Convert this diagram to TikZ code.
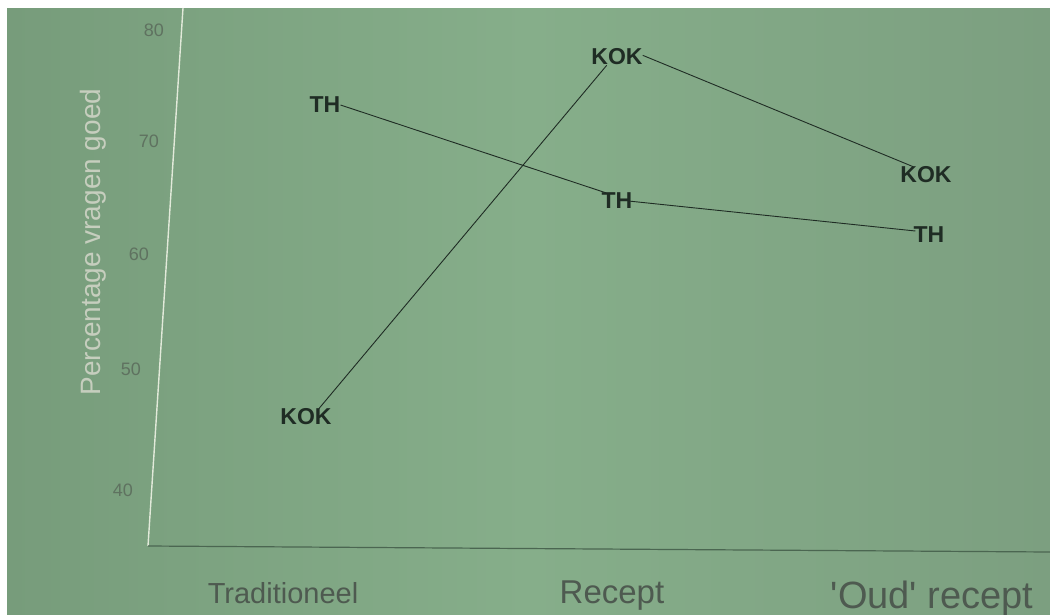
\documentclass[tikz,border=0pt]{standalone}
\usepackage{fontspec}
\setmainfont{Liberation Sans}
\newfontfamily\plainsans{Liberation Sans}
\usetikzlibrary{calc}
\definecolor{bgL}{HTML}{779C7B}
\definecolor{bgM}{HTML}{86AE8A}
\definecolor{bgR}{HTML}{7C9F80}
\definecolor{ink}{HTML}{1F2C24}
\definecolor{tickedge}{HTML}{5F7260}
\definecolor{ytitle}{HTML}{C6CEBE}
\definecolor{xlab}{HTML}{4E5A50}
\definecolor{baseaxis}{HTML}{4B6651}
\definecolor{yaxis}{HTML}{E2EADA}
\tikzset{
  datalab/.style={inner sep=0pt, text=ink, font=\bfseries\fontsize{23}{23}\selectfont},
  ticklab/.style={inner sep=0pt, text=tickedge, font=\fontsize{18}{18}\selectfont},
  catlab/.style={inner sep=0pt, anchor=base, text=xlab},
  dataline/.style={draw=ink, line width=0.9pt},
}
\begin{document}
\begin{tikzpicture}[x=1pt,y=-1pt]
\useasboundingbox (0,0) rectangle (1050,614);
\fill[white] (0,0) rectangle (1050,614);
\shade[left color=bgL, right color=bgR, middle color=bgM] (7,8) rectangle (1050,614);
% axes
\coordinate (ytop) at (183,8);
\coordinate (orig) at (148,546);
\coordinate (xend) at (1050,552);
\draw[yaxis, line width=1.4pt] (ytop) -- (orig);
\draw[baseaxis, line width=1.2pt] (orig) -- (xend);
% tick labels
\node[ticklab] (t80) at (154,30) {80};
\node[ticklab] (t70) at (149,141) {70};
\node[ticklab] (t60) at (139,254) {60};
\node[ticklab] (t50) at (131,369) {50};
\node[ticklab] (t40) at (123,490) {40};
% y title
\node[inner sep=0pt, rotate=90, text=ytitle, font=\fontsize{28}{28}\selectfont] (ytit) at (93,242) {Percentage vragen goed};
% category labels
\node[catlab, font=\fontsize{29}{29}\selectfont] (c1) at (283,603) {Traditioneel};
\node[catlab, font=\fontsize{33}{33}\selectfont] (c2) at (612,603) {Recept};
\node[catlab, font=\plainsans\fontsize{38}{38}\selectfont] (c3) at (932,608) {'Oud' recept};
% data labels
\node[datalab] (thA) at (325,105) {TH};
\node[datalab] (thB) at (617,201) {TH};
\node[datalab] (thC) at (929,235) {TH};
\node[datalab] (kokA) at (306,417) {KOK};
\node[datalab] (kokB) at (617,57) {KOK};
\node[datalab] (kokC) at (926,175) {KOK};
% connectors
\draw[dataline] (thA.east) -- ($(thB.north west)!0.15!(thB.north east)$);
\draw[dataline] ($(thB.east)+(-4,0)$) -- ($(thC.west)+(2,-4)$);
\draw[dataline] ($(kokA.north west)!0.75!(kokA.north east)$) -- ($(kokB.south west)!0.3!(kokB.south east)$);
\draw[dataline] ($(kokB.north east)!0.4!(kokB.south east)$) -- ($(kokC.north west)!0.25!(kokC.north east)$);
\end{tikzpicture}
\end{document}
